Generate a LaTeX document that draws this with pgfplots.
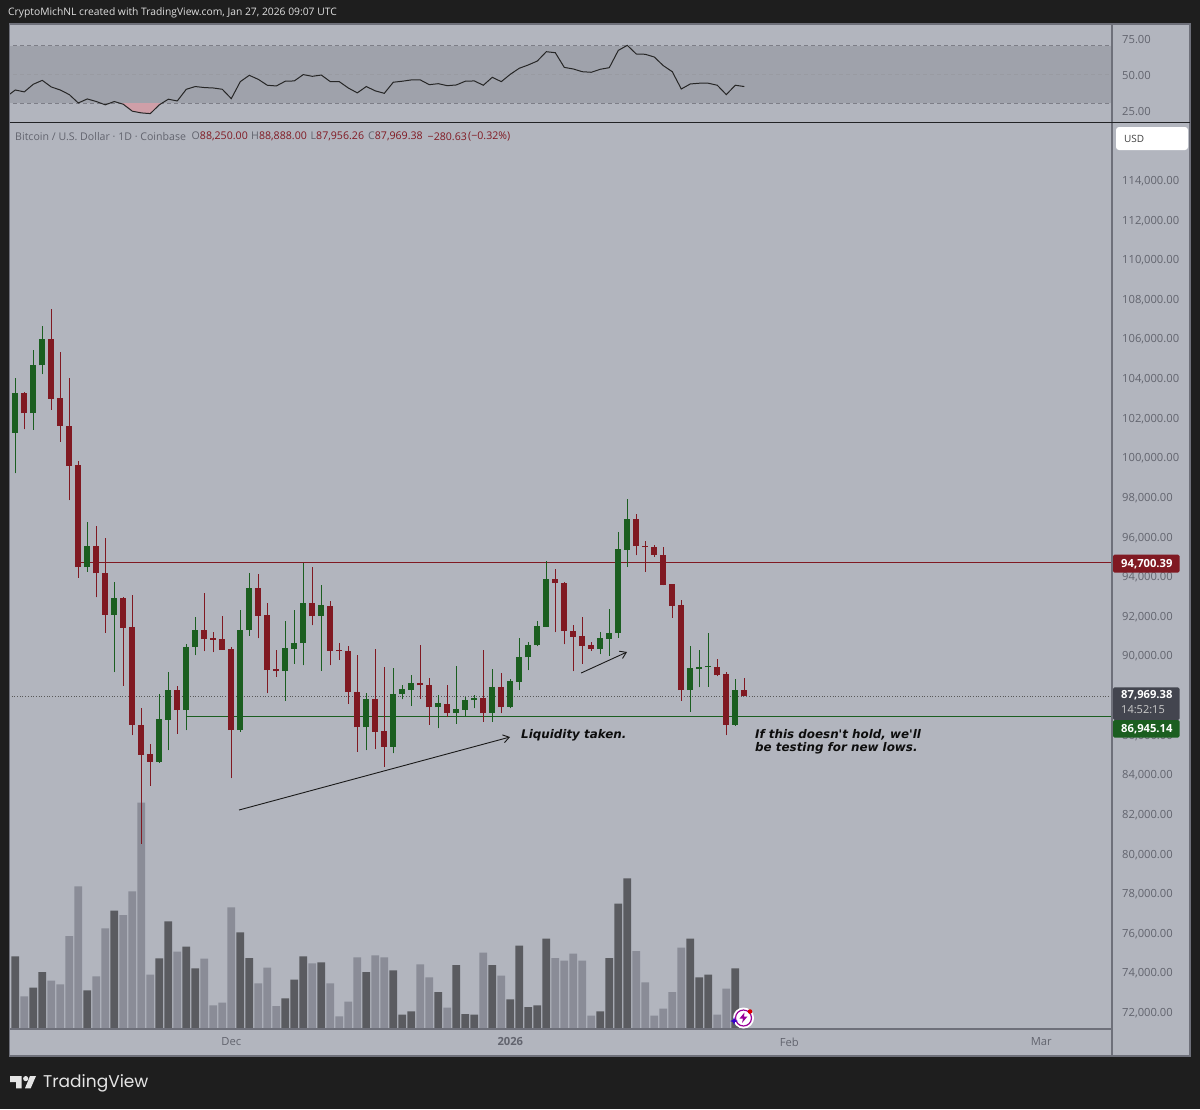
\documentclass[border=0pt]{standalone}
\usepackage{fontspec}
\usepackage{pgfplots}
\usepackage{pgfplotstable}
\pgfplotsset{compat=1.18}
\usetikzlibrary{arrows.meta}
\setmainfont{Open Sans}
\newfontfamily\notefont{DejaVu Sans}
\newfontfamily\logofont{Poppins}
\definecolor{bgdark}{HTML}{1E1E1E}
\definecolor{pane}{HTML}{B2B5BE}
\definecolor{band}{HTML}{9FA2AB}
\definecolor{cred}{HTML}{801922}
\definecolor{cgreen}{HTML}{1B5E20}
\definecolor{volD}{HTML}{5A5B60}
\definecolor{volL}{HTML}{8A8C97}
\definecolor{txt}{HTML}{62646E}
\definecolor{frame}{HTML}{6E707A}
\definecolor{lasttag}{HTML}{43454F}
\definecolor{pinkfill}{HTML}{CF9FA8}

% Nov 7 2025 = day 0
\pgfplotstableread{
x open high low close
1 103280 103320 101430 102240
4 105980 107490 102410 102980
5 103010 105340 100810 101610
6 101600 104020 97860 99600
7 99620 99820 93940 94470
9 95560 96570 92950 94160
10 94160 95950 91170 92070
12 92900 92980 88490 91420
13 91440 93070 85990 86510
14 86510 87380 80500 85010
15 85040 85550 83430 84650
18 88270 88490 86070 87260
21 91320 93170 90230 90830
22 90880 91190 90180 90800
23 90830 91990 90310 90310
24 90340 90430 83820 86250
27 93420 94110 90880 92020
28 92060 92680 88110 89280
29 89320 90290 88940 89220
33 92680 94500 91540 91990
35 92510 92770 89520 90240
36 90280 90660 89790 90230
37 90260 90490 87580 88160
38 88170 90040 85160 86390
40 87820 90340 85290 86170
41 86190 89420 84400 85410
45 88610 90530 87830 88510
46 88510 88880 86520 87400
48 87580 88510 86920 87130
52 87870 90310 86670 87100
54 88410 89120 87100 87430
60 93880 94400 91190 93670
61 93690 93750 90580 91240
62 91270 91570 89220 90960
63 91000 91960 89600 90490
64 90530 90680 90260 90340
69 96920 97160 95070 95530
70 95560 95810 94240 95480
71 95510 95590 94990 95090
72 95100 95480 93570 93570
73 93610 93610 91920 92510
74 92550 92800 87730 88270
78 89450 89820 88980 89010
79 89070 89170 85990 86510
81 88250 88888 87956 87969
}\redc
\pgfplotstableread{
x open high low close
0 101260 104020 99210 103280
2 102240 105440 101400 104680
3 104660 106650 104220 105980
8 94470 96750 94240 95540
11 92070 93740 89170 92900
16 84650 88090 84600 86810
17 86770 89200 85240 88270
19 87260 90600 86250 90460
20 90440 91940 90040 91320
25 86250 92330 86170 91300
26 91290 94190 91000 93420
30 89220 91760 87730 90380
31 90360 92300 89590 90630
32 90630 94700 89520 92680
34 92010 93570 89250 92550
39 86390 88140 85240 87820
42 85410 89380 85080 88090
43 88070 88510 87800 88310
44 88290 89010 87480 88610
47 87400 88000 86340 87600
49 87130 89500 86560 87300
50 87280 87930 86920 87770
51 87750 88000 87350 87870
53 87100 89350 86670 88410
55 87430 88810 87350 88710
56 88690 90910 88270 89940
57 89920 90680 89280 90560
58 90540 91770 90490 91490
59 91470 94800 91470 93880
65 90340 91190 90090 90880
66 90850 92360 90000 91170
67 91150 96250 90910 95380
68 95340 97930 94500 96920
75 88270 90490 87180 89380
76 89330 90280 88410 89450
77 89420 91130 88440 89480
80 86510 88810 86460 88250
}\greenc
\pgfplotstableread{
x v
0 72.7
2 41.3
3 57
8 38.7
11 118.3
16 70.7
17 107.7
19 82.3
20 60.7
25 96.7
26 71
30 30.7
31 49.3
32 72.7
34 66.7
39 57
42 58.7
43 14.3
44 17.7
47 37
49 64
50 15
51 14.3
53 64
55 29.7
56 83.3
57 22
58 23.7
59 90.3
65 17.7
66 71
67 125.3
68 150.7
75 90.3
76 51.7
77 54.3
80 60.7
}\voldark
\pgfplotstableread{
x v
1 32.7
4 48.3
5 44.7
6 93
7 142.7
9 52.7
10 100.7
12 114
13 137.7
14 226.4
15 54.3
18 77.3
21 70.3
22 23.7
23 26.3
24 121.7
27 45.7
28 61.3
29 23
33 65.7
35 45.7
36 12.7
37 27.3
38 71.7
40 73.7
41 71.7
45 64.7
46 51.7
48 21.3
52 76.3
54 53.3
60 71
61 68.3
62 75.3
63 68.3
64 13.3
69 78
70 46.7
71 13.3
72 20.3
73 37
74 81.3
78 14.3
79 40.3
}\vollight
\pgfplotstableread{
x r
-0.64 36.1
0 39.1
1 37.8
2 43.1
3 45.8
4 41.2
5 39.1
6 35.9
7 30.1
8 32.9
9 31.1
10 28.8
11 31.1
12 29.2
13 24.4
14 23.2
15 22.7
16 28.8
17 32.7
18 31.5
19 39.6
20 41.5
21 40.8
22 40.5
23 39.6
24 33.1
25 44.9
26 49.3
27 46.5
28 42.4
29 41.9
30 45.2
31 45.4
32 49.8
33 48.6
34 49.5
35 44.9
36 44.9
37 40.5
38 37.1
39 41.5
40 38.5
41 36.8
42 44.5
43 45.2
44 46.1
45 46.1
46 42.8
47 43.5
48 42.1
49 42.6
50 45.2
51 45.4
52 42.4
53 47.9
54 44.9
55 50
56 54.2
57 56.5
58 59.2
59 65.7
60 65
61 54.8
62 53.7
63 51.8
64 51.4
65 53.5
66 54.6
67 66.6
68 70.1
69 64.1
70 63.9
71 62
72 56
73 51.8
74 39.8
75 43.3
76 43.8
77 43.8
78 42.4
79 35.9
80 42.4
81 41.5
}\rsi

\pgfplotsset{
  paneaxis/.style={
    scale only axis, width=1102.5pt,
    xmin=-0.644, xmax=121.856,
    axis line style={draw=none},
    major tick length=0pt, minor tick length=0pt,
    clip=true,
    yticklabel pos=right,
    scaled y ticks=false, scaled x ticks=false,
    ymajorgrids=false, xmajorgrids=false,
    tick label style={font=\fontsize{11.2}{13}\selectfont, text=txt},
    yticklabel style={anchor=west, inner sep=0pt, xshift=10pt, yshift=-0.8pt, /pgf/number format/.cd, fixed, fixed zerofill, precision=2, 1000 sep={,}, assume math mode=true},
  },
  wick/.style={only marks, mark size=0pt, mark options={draw=none,fill=none}, forget plot,
    error bars/.cd, y dir=plus, y explicit, error mark=none,
    error bar style={line width=1pt, draw=#1}},
  body/.style={only marks, mark size=0pt, mark options={draw=none,fill=none}, forget plot,
    error bars/.cd, y dir=plus, y explicit, error mark=none,
    error bar style={line width=6pt, draw=#1}},
}
\newcommand{\legf}{\fontsize{10.6}{13}\selectfont}
\newcommand{\tagf}{\bfseries\fontsize{11.2}{13}\selectfont}
\newcommand{\notef}{\notefont\bfseries\itshape\fontsize{11.9}{14}\selectfont}

\begin{document}
\begin{tikzpicture}
\useasboundingbox (0pt,0pt) rectangle (1200pt,-1109pt);
\fill[bgdark] (0pt,0pt) rectangle (1200pt,-1109pt);
\fill[pane] (9.5pt,-24pt) rectangle (1190pt,-1056pt);

% RSI pane
\begin{axis}[paneaxis, at={(9.5pt,-122.3pt)}, anchor=south west, height=98.3pt,
  ymin=16.67, ymax=84.93, ytick={25,50,75}, xtick=\empty]
\addplot[fill=band, draw=none, forget plot] coordinates {(-1,30)(123,30)(123,70)(-1,70)};
\addplot[draw=frame!90, line width=0.7pt, forget plot, dash pattern=on 4pt off 3pt] coordinates {(-1,70)(123,70)};
\addplot[draw=frame!70, line width=0.7pt, forget plot, dash pattern=on 4pt off 3pt] coordinates {(-1,50)(123,50)};
\addplot[draw=frame!90, line width=0.7pt, forget plot, dash pattern=on 4pt off 3pt] coordinates {(-1,30)(123,30)};
\addplot[fill=pinkfill, draw=none, forget plot] coordinates {(11.6,30)(12,29.2)(13,24.4)(14,23.2)(15,22.7)(16,28.8)(16.3,30)};
\addplot[draw=black!85, line width=1pt, forget plot] table[x=x,y=r] {\rsi};
\end{axis}

% Volume
\begin{axis}[at={(9.5pt,-1029pt)}, anchor=south west, scale only axis, width=1102.5pt, height=906pt,
  xmin=-0.644, xmax=121.856, ymin=0, ymax=906, hide axis, ybar, bar width=7.6pt, bar shift=0pt]
\addplot[fill=volD, draw=none] table[x=x,y=v] {\voldark};
\addplot[fill=volL, draw=none] table[x=x,y=v] {\vollight};
\end{axis}

% Price pane
\begin{axis}[paneaxis, at={(9.5pt,-1029pt)}, anchor=south west, height=906pt,
  ymin=71160, ymax=116895, ytick={72000,74000,...,114000},
  xtick={24,55,86,114}, xticklabels={Dec,{\bfseries 2026},Feb,Mar},
  xticklabel style={yshift=-5pt}]
\addplot[draw=black!65, line width=0.7pt, dotted, forget plot] coordinates {(-1,87969.38)(123,87969.38)};
\addplot[draw=cred, line width=1pt, forget plot] coordinates {(7.3,94700.39)(123,94700.39)};
\addplot[draw=cgreen, line width=1pt, forget plot] coordinates {(19,86945.14)(123,86945.14)};
\addplot[wick=cred] table[x=x,y=low,y error plus expr=\thisrow{high}-\thisrow{low}] {\redc};
\addplot[wick=cgreen] table[x=x,y=low,y error plus expr=\thisrow{high}-\thisrow{low}] {\greenc};
\addplot[body=cred] table[x=x,y=close,y error plus expr=\thisrow{open}-\thisrow{close}] {\redc};
\addplot[body=cgreen] table[x=x,y=open,y error plus expr=\thisrow{close}-\thisrow{open}] {\greenc};
\addplot[draw=black!90, line width=0.9pt, -{Straight Barb[length=6pt,width=8pt]}, forget plot] coordinates {(24.86,82215)(54.97,85900)};
\addplot[draw=black!90, line width=0.9pt, -{Straight Barb[length=6pt,width=8pt]}, forget plot] coordinates {(62.87,89131)(67.97,90191)};
\end{axis}

\begin{scope}[x=1pt,y=-1pt]
% frame
\draw[frame, line width=1.2pt] (9.5,24) rectangle (1190,1056);
\draw[frame, line width=1.5pt] (1112,24) -- (1112,1056);
\draw[black!70!frame, line width=1.5pt] (9.5,122.5) -- (1190,122.5);
\draw[frame, line width=1.5pt] (9.5,1029) -- (1112,1029);

% header and legend
\node[anchor=west, inner sep=0pt, text=white!88!black, font=\fontsize{10.3}{13}\selectfont] at (8,13) {CryptoMichNL created with TradingView.com, Jan 27, 2026 09:07 UTC};
\node[anchor=west, inner sep=0pt, text=txt, font=\legf] at (15,136.5) {Bitcoin / U.S. Dollar · 1D · Coinbase};
\node[anchor=west, inner sep=0pt, font=\legf] at (191.5,136.5) {\textcolor{txt}{O}\textcolor{cred}{88,250.00}};
\node[anchor=west, inner sep=0pt, font=\legf] at (251,136.5) {\textcolor{txt}{H}\textcolor{cred}{88,888.00}};
\node[anchor=west, inner sep=0pt, font=\legf] at (310.5,136.5) {\textcolor{txt}{L}\textcolor{cred}{87,956.26}};
\node[anchor=west, inner sep=0pt, font=\legf] at (368,136.5) {\textcolor{txt}{C}\textcolor{cred}{87,969.38}};
\node[anchor=west, inner sep=0pt, text=cred, font=\legf] at (427.5,136.5) {−280.63};
\node[anchor=west, inner sep=0pt, text=cred, font=\legf] at (468,136.5) {(−0.32\%)};

% USD button
\fill[white, rounded corners=3pt] (1116,127) rectangle (1188,150);
\node[anchor=west, inner sep=0pt, text=black!75, font=\fontsize{10}{12}\selectfont] at (1124,138.5) {USD};

% price tags
\fill[cred, rounded corners=1.5pt] (1113,554.7) rectangle (1179.5,572.7);
\node[anchor=west, inner sep=0pt, text=white, font=\tagf] at (1121,563.7) {94,700.39};
\fill[lasttag, rounded corners=1.5pt] (1113,687.3) rectangle (1179.5,720);
\node[anchor=west, inner sep=0pt, text=white, font=\tagf] at (1121,695.5) {87,969.38};
\node[anchor=west, inner sep=0pt, text=white!80!black, font=\fontsize{11}{12}\selectfont] at (1121,709.5) {14:52:15};
\fill[cgreen, rounded corners=1.5pt] (1113,720) rectangle (1179.5,737.7);
\node[anchor=west, inner sep=0pt, text=white, font=\tagf] at (1121,729) {86,945.14};

% notes
\node[anchor=west, inner sep=0pt, text=black!95, font=\notef] at (521,735) {Liquidity taken.};
\node[anchor=west, inner sep=0pt, text=black!95, font=\notef] at (755,735) {If this doesn't hold, we'll};
\node[anchor=west, inner sep=0pt, text=black!95, font=\notef] at (755,748.5) {be testing for new lows.};

% icon
\fill[white] (743.5,1018) circle (10.5);
\draw[violet!80!magenta, line width=1.2pt] (743.5,1018) circle (8);
\fill[violet!80!magenta] (744.5,1012.5) -- (739.5,1018.5) -- (743,1018.5) -- (742,1023) -- (747.5,1016.5) -- (744,1016.5) -- cycle;
\fill[red!85!black] (750,1011.5) circle (2.3);
\fill[blue!60!violet] (734,1017) -- (735,1020) -- (738,1021) -- (735,1022) -- (734,1025) -- (733,1022) -- (730,1021) -- (733,1020) -- cycle;

% TradingView logo
\fill[white!90!black] (10,1076) -- (21.7,1076) -- (21.7,1088.3) -- (16,1088.3) -- (16,1082) -- (10,1082) -- cycle;
\fill[white!90!black] (25.7,1078.6) circle (2.6);
\fill[white!90!black] (30,1076) -- (36,1076) -- (30.7,1088.3) -- (25,1088.3) -- cycle;
\node[anchor=west, inner sep=0pt, text=white!90!black, font=\logofont\fontsize{17}{20}\selectfont] at (43,1083) {TradingView};
\end{scope}
\end{tikzpicture}
\end{document}
